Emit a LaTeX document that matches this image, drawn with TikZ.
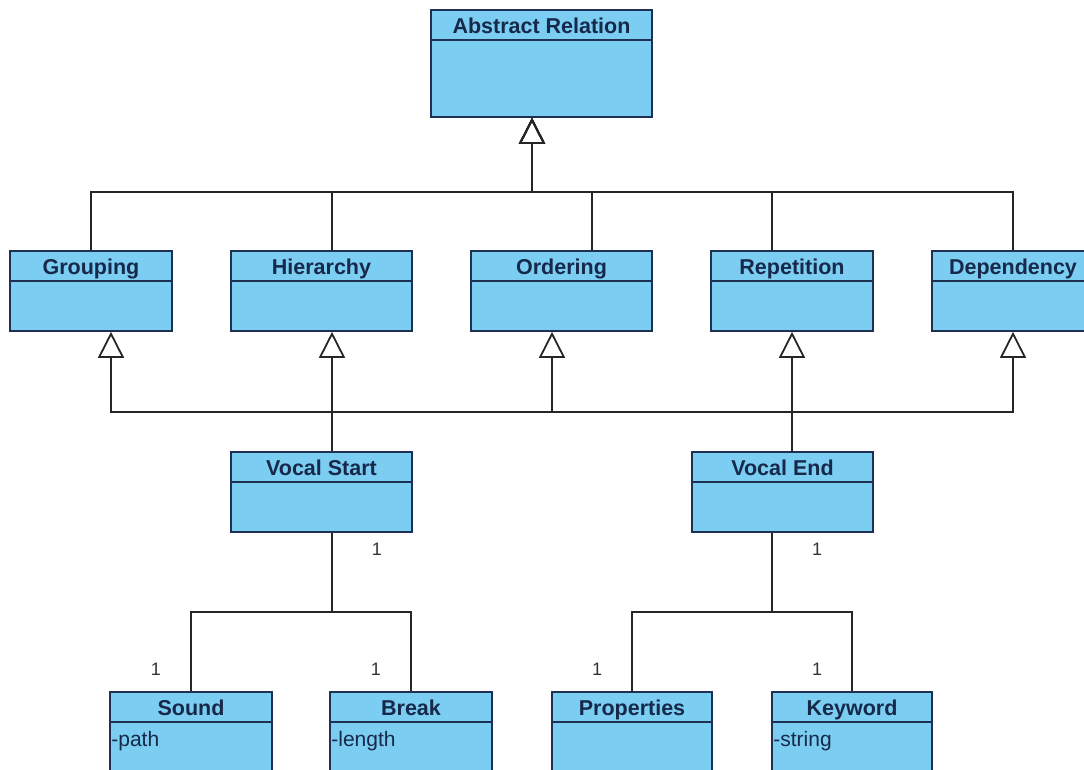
\documentclass[tikz,border=0pt]{standalone}
\usepackage{fontspec}
\setmainfont{Liberation Sans}
\usetikzlibrary{arrows.meta,fit,calc}
\definecolor{clsfill}{HTML}{7BCDF2}
\definecolor{clsedge}{HTML}{1E3152}
\definecolor{clstext}{HTML}{17294A}
\definecolor{wire}{HTML}{262626}

\tikzset{
  cls/.style={draw=clsedge, fill=clsfill, line width=1.6pt, inner sep=0pt, rectangle},
  clsrule/.style={draw=clsedge, line width=1.6pt},
  clstitle/.style={anchor=base, font=\fontsize{21.5}{25}\selectfont\bfseries, text=clstext, inner sep=0pt},
  clsattr/.style={anchor=base west, font=\fontsize{21}{25}\selectfont, text=clstext, inner sep=0pt},
  gen/.style={draw=wire, line width=1.8pt, -{Triangle[open, length=26pt, width=26pt, line width=1.8pt]}},
  assoc/.style={draw=wire, line width=1.8pt},
  mult/.style={anchor=base, font=\fontsize{18}{22}\selectfont, text=black!80, inner sep=0pt},
}

% class box: name, left, right, top, bottom, title, attribute
\newcommand{\umlclass}[7]{%
  \node[cls, fit={(#2,#4) (#3,#5)}] (#1) {};
  \draw[clsrule] ($(#1.north west)+(0,31)$) -- ($(#1.north east)+(0,31)$);
  \node[clstitle] (#1-title) at ($(#1.north)+(0,24)$) {#6};
  \node[clsattr] (#1-attr) at ($(#1.north west)+(2,55)$) {#7};
}

\begin{document}
\begin{tikzpicture}[x=1pt, y=-1pt]
  \fill[white] (0,0) rectangle (1084,769);
  \useasboundingbox (0,0) rectangle (1084,769);
  \clip (0,0) rectangle (1084,769);

  % classes
  \umlclass{absrel}{431}{652}{10}{117}{Abstract Relation}{}
  \umlclass{grouping}{10}{172}{251}{331}{Grouping}{}
  \umlclass{hierarchy}{231}{412}{251}{331}{Hierarchy}{}
  \umlclass{ordering}{471}{652}{251}{331}{Ordering}{}
  \umlclass{repetition}{711}{873}{251}{331}{Repetition}{}
  \umlclass{dependency}{932}{1094}{251}{331}{Dependency}{}
  \umlclass{vocalstart}{231}{412}{452}{532}{Vocal Start}{}
  \umlclass{vocalend}{692}{873}{452}{532}{Vocal End}{}
  \umlclass{sound}{110}{272}{692}{800}{Sound}{-path}
  \umlclass{break}{330}{492}{692}{800}{Break}{-length}
  \umlclass{properties}{552}{712}{692}{800}{Properties}{}
  \umlclass{keyword}{772}{932}{692}{800}{Keyword}{-string}

  % bus points
  \coordinate (topbus) at (532,192);
  \coordinate (gbus) at (111,412);
  \coordinate (obus) at (552,412);
  \coordinate (dbus) at (1013,412);
  \coordinate (vsbus) at (332,612);
  \coordinate (vebus) at (772,612);

  % generalisations to Abstract Relation
  \draw[gen] (grouping.north) |- (topbus) -- (absrel.south -| topbus);
  \draw[gen] ([xshift=10.5pt]hierarchy.north) |- (topbus) -- (absrel.south -| topbus);
  \draw[gen] ([xshift=30.5pt]ordering.north) |- (topbus) -- (absrel.south -| topbus);
  \draw[gen] ([xshift=-20pt]repetition.north) |- (topbus) -- (absrel.south -| topbus);
  \draw[gen] (dependency.north) |- (topbus) -- (absrel.south -| topbus);

  % Vocal Start / Vocal End generalisations
  \draw[gen] ([xshift=10.5pt]vocalstart.north) -- ([xshift=10.5pt]hierarchy.south);
  \draw[gen] ([xshift=10.5pt]vocalstart.north) |- (gbus) -- (grouping.south -| gbus);
  \draw[gen] ([xshift=10.5pt]vocalstart.north) |- (obus) -- (ordering.south -| obus);
  \draw[gen] ([xshift=10.5pt]vocalstart.north) |- (dbus) -- (dependency.south -| dbus);
  \draw[gen] (vocalend.north -| repetition.south) -- (repetition.south);

  % associations
  \draw[assoc] ([xshift=10.5pt]vocalstart.south) -- (vsbus);
  \draw[assoc] (sound.north) |- (vsbus) -| (break.north);
  \draw[assoc] ([xshift=-10.5pt]vocalend.south) -- (vebus);
  \draw[assoc] (properties.north) |- (vebus) -| (keyword.north);

  % multiplicities
  \node[mult] (m-vs) at (377,555) {1};
  \node[mult] (m-ve) at (817,555) {1};
  \node[mult] (m-sound) at (156,675) {1};
  \node[mult] (m-break) at (376,675) {1};
  \node[mult] (m-prop) at (597,675) {1};
  \node[mult] (m-key) at (817,675) {1};
\end{tikzpicture}
\end{document}
